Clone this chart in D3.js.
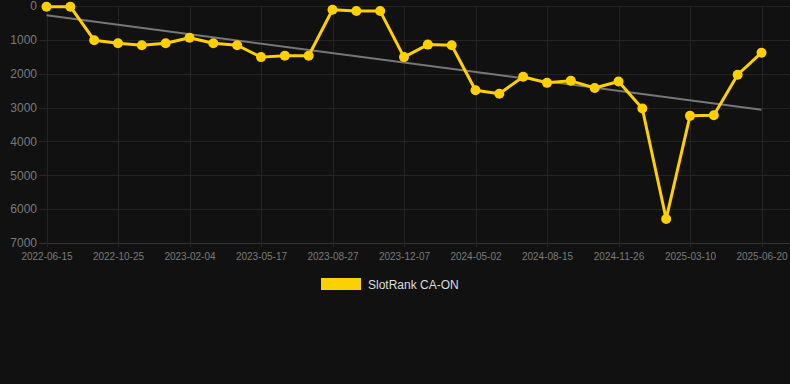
<!DOCTYPE html>
<html>
<head>
<meta charset="utf-8">
<script src="https://cdn.jsdelivr.net/npm/d3@7"></script>
<style>
  html, body { margin: 0; padding: 0; background: #111111; }
  svg { display: block; }
</style>
</head>
<body>
<div id="chart"></div>
<script>
// DATA
const dates = [
    '2022-06-15', '2022-07-29', '2022-09-11', '2022-10-25', '2022-11-28', '2023-01-01',
    '2023-02-04', '2023-03-10', '2023-04-13', '2023-05-17', '2023-06-20', '2023-07-24',
    '2023-08-27', '2023-09-30', '2023-11-03', '2023-12-07', '2024-01-25', '2024-03-14',
    '2024-05-02', '2024-06-05', '2024-07-10', '2024-08-15', '2024-09-18', '2024-10-22',
    '2024-11-26', '2024-12-30', '2025-02-04', '2025-03-10', '2025-04-13', '2025-05-17',
    '2025-06-20'
];
const ranks = [
    20, 20, 1010, 1100, 1160, 1100, 940, 1100, 1160, 1510, 1470, 1470,
    110, 150, 150, 1510, 1140, 1160, 2490, 2590, 2090, 2270, 2210, 2420,
    2230, 3030, 6290, 3245, 3225, 2030, 1380
];
const yTicks = [0, 1000, 2000, 3000, 4000, 5000, 6000, 7000];
const seriesName = 'SlotRank CA-ON';

// SETTINGS
const dimensions = { width: 790, height: 384 };
const plot = { left: 46.5, right: 761.5, top: 6, bottom: 243, gridLeft: 39, gridRight: 790 };
const colors = {
    line: '#ffd000',
    trend: '#777777',
    grid: '#242424',
    axis: '#333333',
    yText: '#7a7a7a',
    xText: '#7a7a7a',
    legendText: '#dddddd'
};

const svg = d3.select('#chart')
    .append('svg')
    .attr('width', dimensions.width)
    .attr('height', dimensions.height)
    .style('font-family', '"Liberation Sans", Arial, sans-serif');

const x = d3.scalePoint()
    .domain(dates)
    .range([plot.left, plot.right]);
const y = d3.scaleLinear()
    .domain([0, 7000])
    .range([plot.top, plot.bottom]);

const xTickDates = dates.filter((d, i) => i % 3 === 0);

// grid
svg.append('g')
    .selectAll('line')
    .data(yTicks)
    .join('line')
        .attr('x1', plot.gridLeft)
        .attr('x2', plot.gridRight)
        .attr('y1', d => Math.round(y(d)) + 0.5)
        .attr('y2', d => Math.round(y(d)) + 0.5)
        .attr('stroke', d => d === 7000 ? colors.axis : colors.grid);

svg.append('g')
    .selectAll('line')
    .data(xTickDates)
    .join('line')
        .attr('x1', d => Math.round(x(d)) + 0.5)
        .attr('x2', d => Math.round(x(d)) + 0.5)
        .attr('y1', plot.top)
        .attr('y2', plot.bottom + 4)
        .attr('stroke', colors.grid);

// axes
const yAxis = svg.append('g')
    .attr('transform', 'translate(37, 0)')
    .call(d3.axisLeft(y).tickValues(yTicks).tickSize(0).tickPadding(0).tickFormat(d3.format('d')));
yAxis.select('.domain').remove();
yAxis.selectAll('text')
    .attr('fill', colors.yText)
    .style('font-size', '12px');

const xAxis = svg.append('g')
    .attr('transform', `translate(0, ${plot.bottom})`)
    .call(d3.axisBottom(x).tickValues(xTickDates).tickSize(0).tickPadding(10));
xAxis.select('.domain').remove();
xAxis.selectAll('text')
    .attr('fill', colors.xText)
    .style('font-size', '10px');

// trend line (least squares over the series)
const n = ranks.length;
const meanI = d3.mean(ranks, (d, i) => i);
const meanV = d3.mean(ranks);
const slope = d3.sum(ranks, (d, i) => (i - meanI) * (d - meanV)) / d3.sum(ranks, (d, i) => (i - meanI) ** 2);
const intercept = meanV - slope * meanI;
const trend = [0, n - 1].map(i => ({ date: dates[i], value: intercept + slope * i }));

svg.append('path')
    .datum(trend)
    .attr('fill', 'none')
    .attr('stroke', colors.trend)
    .attr('stroke-width', 2)
    .attr('d', d3.line().x(d => x(d.date)).y(d => y(d.value)));

// series
const series = dates.map((d, i) => ({ date: d, value: ranks[i] }));

svg.append('path')
    .datum(series)
    .attr('fill', 'none')
    .attr('stroke', colors.line)
    .attr('stroke-width', 3)
    .attr('stroke-linejoin', 'round')
    .attr('d', d3.line().x(d => x(d.date)).y(d => y(d.value)));

svg.append('g')
    .selectAll('circle')
    .data(series)
    .join('circle')
        .attr('cx', d => x(d.date))
        .attr('cy', d => y(d.value))
        .attr('r', 5)
        .attr('fill', colors.line);

// legend
const legend = svg.append('g')
    .attr('transform', 'translate(321, 278)');
legend.append('rect')
    .attr('width', 40)
    .attr('height', 12)
    .attr('fill', colors.line);
legend.append('text')
    .attr('x', 47)
    .attr('y', 10.5)
    .attr('fill', colors.legendText)
    .style('font-size', '12px')
    .text(seriesName);
</script>
</body>
</html>
